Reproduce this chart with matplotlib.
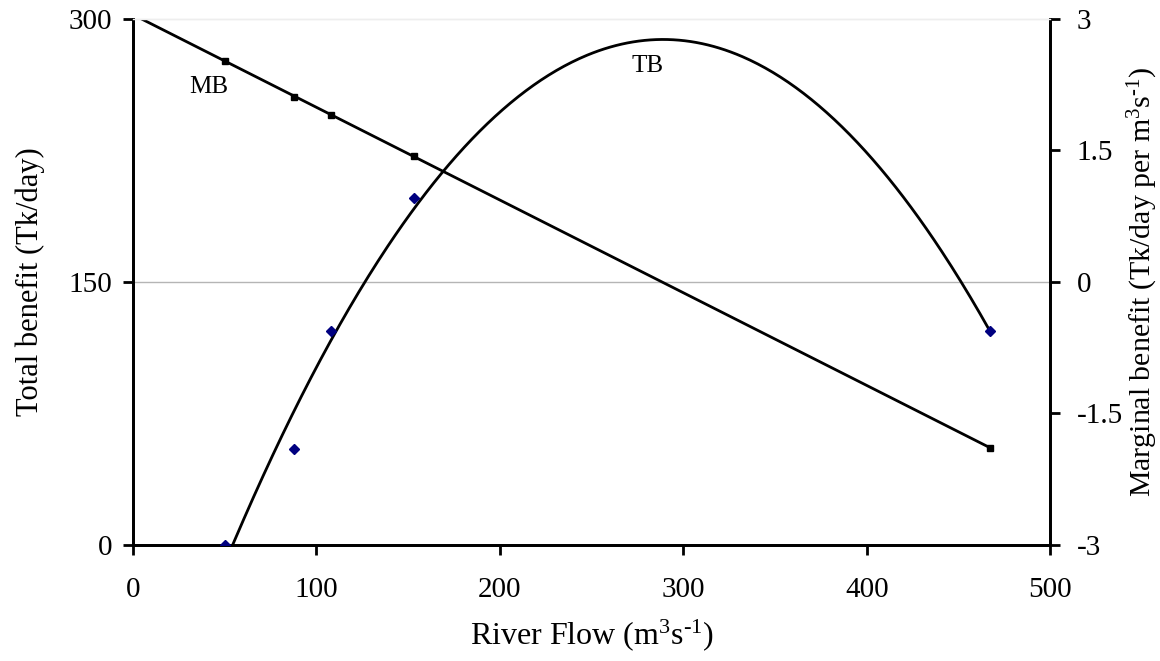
import numpy as np
import matplotlib
matplotlib.use("Agg")
import matplotlib.pyplot as plt

plt.rcParams["font.family"] = ["Liberation Serif", "DejaVu Serif"]
plt.rcParams["mathtext.fontset"] = "custom"
plt.rcParams["mathtext.rm"] = "Liberation Serif"
plt.rcParams["mathtext.it"] = "Liberation Serif:italic"
plt.rcParams["axes.unicode_minus"] = False

# River flow observations (m3/s)
flow = [50, 88, 108, 153, 467]
# Total benefit (Tk/day)
total_benefit = [0, 55, 122, 198, 122]
# Marginal benefit (Tk/day per m3/s)
marginal_benefit = [2.52, 2.11, 1.91, 1.44, -1.89]

x_ticks = [0, 100, 200, 300, 400, 500]
left_ticks = [0, 150, 300]
right_ticks = [-3, -1.5, 0, 1.5, 3]
right_tick_labels = ["-3", "-1.5", "0", "1.5", "3"]

fig = plt.figure(figsize=(11.6, 6.61), dpi=100)
ax = fig.add_axes([0.1147, 0.1755, 0.7906, 0.7958])
ax2 = ax.twinx()

x = np.array(flow, dtype=float)

# Quadratic trend of total benefit over the observed flow range
tb_coef = np.polyfit(x, total_benefit, 2)
xs_tb = np.linspace(x.min(), x.max(), 400)
ax.plot(xs_tb, np.polyval(tb_coef, xs_tb), color="black", lw=2.0, zorder=3)
ax.plot(flow, total_benefit, linestyle="none", marker="D", ms=5,
        color="#000080", zorder=4)

# Linear trend of marginal benefit, extended back to zero flow
mb_coef = np.polyfit(x, marginal_benefit, 1)
xs_mb = np.linspace(0, x.max(), 200)
ax2.plot(xs_mb, np.polyval(mb_coef, xs_mb), color="black", lw=2.0, zorder=3)
ax2.plot(flow, marginal_benefit, linestyle="none", marker="s", ms=4.5,
        color="black", zorder=4)

# Zero line of the marginal benefit axis
ax2.axhline(0, color="#b5b5b5", lw=1.0, zorder=1)

ax.set_xlim(0, 500)
ax.set_ylim(0, 300)
ax2.set_ylim(-3, 3)
ax.set_xticks(x_ticks)
ax.set_yticks(left_ticks)
ax2.set_yticks(right_ticks)
ax.set_xticklabels([str(v) for v in x_ticks])
ax.set_yticklabels([str(v) for v in left_ticks])
ax2.set_yticklabels(right_tick_labels)

for a in (ax, ax2):
    for side in ("left", "right", "bottom"):
        a.spines[side].set_linewidth(2.0)
    a.spines["top"].set_color("#eeeeee")
    a.spines["top"].set_linewidth(1.0)
    a.tick_params(direction="out", length=7, width=2.0, labelsize=21,
                  pad=6, colors="black")
ax.tick_params(axis="x", pad=16)
ax.tick_params(axis="y", pad=8)
ax2.tick_params(axis="y", pad=12)

unit = r"m$^3$s$^{\text{-1}}$"
ax.set_xlabel("River Flow (" + unit + ")", fontsize=23, labelpad=10)
ax.set_ylabel("Total benefit (Tk/day)", fontsize=22, labelpad=17)
ax2.set_ylabel("Marginal benefit (Tk/day per " + unit + ")", fontsize=21.5,
               labelpad=2)

ax.text(41.5, 261, "MB", fontsize=18, ha="center", va="center")
ax.text(280.6, 273, "TB", fontsize=18, ha="center", va="center")

ax.set_zorder(ax2.get_zorder() + 1)
ax.patch.set_visible(False)

fig.savefig("out.png", dpi=100, facecolor="white")
